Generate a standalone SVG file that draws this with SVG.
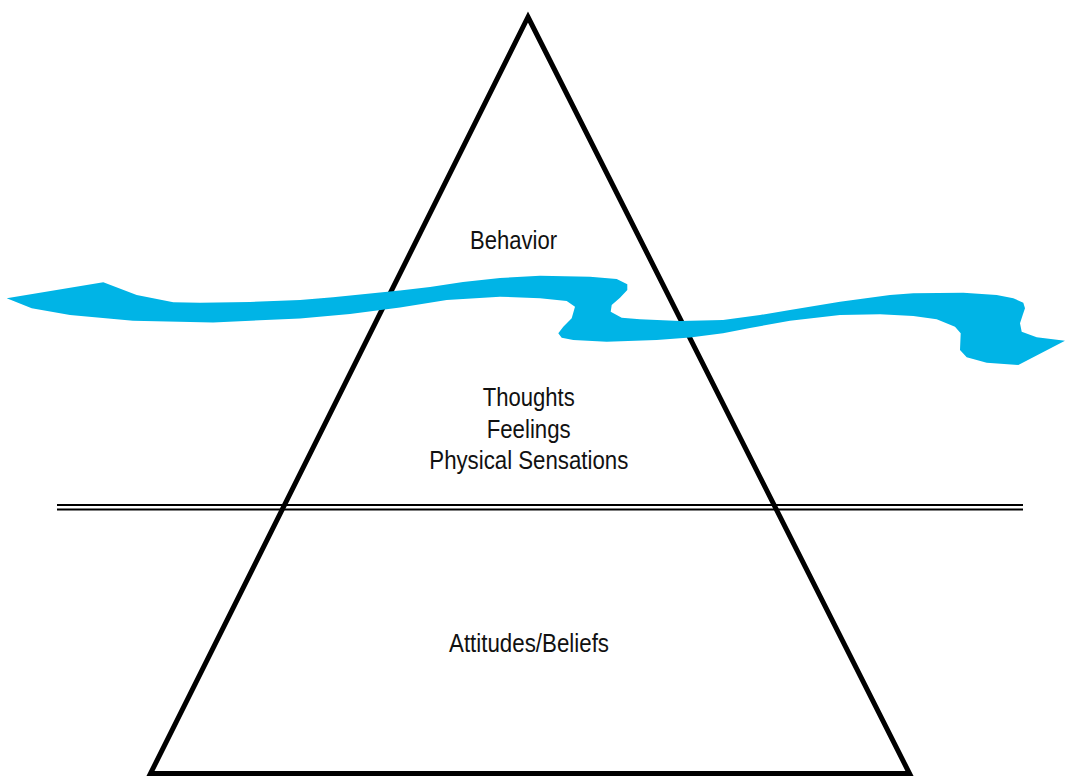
<svg xmlns="http://www.w3.org/2000/svg" width="1065" height="779" viewBox="0 0 1065 779">
<style>
.lbl{font-family:"Liberation Sans",Arial,sans-serif;font-size:25.5px;fill:#111;}
.ln{stroke:#000;fill:none;}
</style>
<rect width="1065" height="779" fill="#fff"/>
<g id="pyramid">
<polygon class="ln" points="528,17 909.5,773.5 150.5,773.5" stroke-width="5" stroke-linejoin="miter"/>
</g>
<g id="waterline">
<line class="ln" x1="57" y1="505" x2="1023" y2="505" stroke-width="2"/>
<line class="ln" x1="57" y1="509.5" x2="1023" y2="509.5" stroke-width="2"/>
</g>
<g id="wave">
<polygon fill="#00B4E6" points="6.7,298.3 103.3,282.3 136.7,295 173.3,302.3 200,302.7 250,302 300,300 333,297.3 380,292.5 400,290.5 430,287 463,282 500,278 540,275.7 590,276.7 616.7,279 627.3,284.3 627.3,290 620,297.7 611.7,305 610.7,311.7 621.7,317.7 640,319.3 680,321 723,320 760,315 790,310 840,301.7 890,295 913.3,293.3 963.3,292.7 996.7,295 1013.3,298.3 1023.3,302.7 1025,308.3 1022.7,315 1020,323.3 1021.7,331.7 1036.7,337.3 1065,340.7 1018.3,365 986.7,362.7 966.7,357.3 960,350 960.7,333.3 955,326.7 936.7,319.3 913.3,316 880,314.3 840,315 790,320.7 750,328 723,333.3 690,337.5 656.7,340 606.7,341.7 573.3,340 561.7,337.7 558.3,333.3 563.3,326.7 571.7,318.3 575,306.7 566.7,301 540,298.3 500,296.7 446.7,300 400,307.5 350,314 300,318.5 213,322.5 133,320.7 70,315 31.7,308.3"/>
</g>
<g id="behavior"><text class="lbl" x="470" y="249.3" textLength="87" lengthAdjust="spacingAndGlyphs">Behavior</text></g>
<g id="inner">
<text class="lbl" x="482.7" y="405.7" textLength="92" lengthAdjust="spacingAndGlyphs">Thoughts</text>
<text class="lbl" x="486.7" y="438.3" textLength="84" lengthAdjust="spacingAndGlyphs">Feelings</text>
<text class="lbl" x="429.3" y="469.3" textLength="199" lengthAdjust="spacingAndGlyphs">Physical Sensations</text>
</g>
<g id="beliefs"><text class="lbl" x="449" y="651.7" textLength="160" lengthAdjust="spacingAndGlyphs">Attitudes/Beliefs</text></g>
</svg>
